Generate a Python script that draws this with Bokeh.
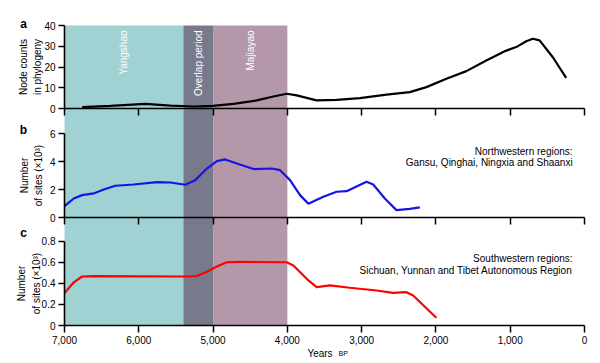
import math
from bokeh.plotting import figure
from bokeh.models import (Range1d, LinearAxis, FixedTicker, NumeralTickFormatter,
                          BoxAnnotation, Label)
from bokeh.embed import file_html
from bokeh.resources import INLINE

FONT = "Liberation Sans"

# ---- data ----
node_years = [6762, 6382, 5912, 5576, 5262, 5003, 4725, 4412, 4188, 4009, 3874, 3606, 3337,
              3023, 2665, 2352, 2128, 1859, 1590, 1322, 1053, 919, 784, 695, 605, 426, 247]
node_counts = [0.64, 1.3, 2.2, 1.4, 0.96, 1.3, 2.2, 3.9, 5.8, 7.1, 6.3, 3.9, 4.2,
               5.0, 6.7, 7.9, 10.3, 14.3, 18.0, 23.1, 27.9, 29.6, 32.4, 33.6, 32.8, 24.7, 14.8]

nw_years = [7000, 6875, 6763, 6606, 6472, 6315, 6069, 5755, 5576, 5374, 5240, 5083, 4949,
            4837, 4680, 4456, 4210, 4098, 3964, 3829, 3717, 3516, 3337, 3203, 2934, 2844,
            2688, 2531, 2352, 2217]
nw_sites = [0.83, 1.38, 1.62, 1.74, 2.02, 2.29, 2.38, 2.55, 2.52, 2.36, 2.69, 3.52, 4.05,
            4.17, 3.88, 3.48, 3.52, 3.40, 2.69, 1.62, 1.00, 1.5, 1.86, 1.9, 2.57, 2.38,
            1.38, 0.55, 0.64, 0.74]

sw_years = [7000, 6875, 6763, 6606, 5352, 5218, 5083, 4949, 4815, 4636, 4009, 3919, 3740,
            3606, 3427, 3158, 2800, 2576, 2397, 2307, 1994]
sw_sites = [0.307, 0.41, 0.465, 0.468, 0.465, 0.47, 0.51, 0.56, 0.60, 0.604, 0.60, 0.57,
            0.443, 0.364, 0.38, 0.358, 0.332, 0.31, 0.316, 0.285, 0.073]

period_names = ["Yangshao", "Overlap period", "Majiayao"]
period_start = [7000, 5400, 5000]
period_end = [5400, 5000, 4000]
period_colors = ["#a0d1d3", "#787a8c", "#b498aa"]

x_ticks = [7000, 6000, 5000, 4000, 3000, 2000, 1000, 0]
a_ticks = [0, 10, 20, 30, 40]
b_ticks = [0, 2, 4, 6]
c_ticks = [0, 0.2, 0.4, 0.6, 0.8]

# ---- layout (pixels) ----
W, H = 598, 360
LEFT_PX, RIGHT_PX = 64, 584          # where 7000 and 0 sit
X_PER_PX = (x_ticks[0] - x_ticks[-1]) / (RIGHT_PX - LEFT_PX)
A_ZERO, A_UNIT = 108.0, 83.0 / 40     # pixel row of 0, pixels per unit
B_ZERO, B_UNIT = 217.3, 84.0 / 6
C_ZERO, C_UNIT = 325.0, 84.3 / 0.8
SHADE_TOP, SHADE_BOTTOM = 25.0, 325.0


def prange(zero_px, unit_px):
    return Range1d(start=-(H - zero_px) / unit_px, end=zero_px / unit_px)


p = figure(width=W, height=H,
           x_range=Range1d(x_ticks[0] + LEFT_PX * X_PER_PX, x_ticks[-1] - (W - RIGHT_PX) * X_PER_PX),
           y_range=Range1d(H, 0),
           output_backend="svg", toolbar_location=None,
           x_axis_location=None, y_axis_location=None,
           min_border=0, min_border_left=0, min_border_right=0,
           min_border_top=0, min_border_bottom=0)
p.extra_y_ranges = {"a": prange(A_ZERO, A_UNIT), "b": prange(B_ZERO, B_UNIT),
                    "c": prange(C_ZERO, C_UNIT)}
p.outline_line_color = None
p.grid.visible = False
p.background_fill_color = "white"
p.border_fill_color = "white"

for s, e, c in zip(period_start, period_end, period_colors):
    p.add_layout(BoxAnnotation(left=s, right=e, top=SHADE_TOP, bottom=SHADE_BOTTOM,
                               fill_color=c, fill_alpha=1.0, line_color=None,
                               level="underlay"))


def style_axis(ax):
    ax.axis_line_width = 1.6
    ax.axis_line_color = "black"
    ax.major_tick_line_width = 1.5
    ax.major_tick_line_color = "black"
    ax.minor_tick_line_color = None
    ax.major_label_text_font = FONT
    ax.major_label_text_font_size = "10px"
    ax.major_label_text_color = "black"
    ax.axis_label_text_font = FONT
    ax.axis_label_text_font_size = "10px"
    ax.axis_label_text_font_style = "normal"
    ax.axis_label_text_color = "black"
    ax.axis_label_text_line_height = 1.3


def add_y_axis(name, ticks, label, standoff, overrides=None):
    ax = LinearAxis(y_range_name=name, ticker=FixedTicker(ticks=ticks),
                    bounds=(ticks[0], ticks[-1]), axis_label=label,
                    fixed_location=x_ticks[0])
    style_axis(ax)
    ax.major_tick_out = 6
    ax.major_tick_in = 0
    ax.major_label_standoff = 3
    ax.axis_label_standoff = standoff
    if overrides:
        ax.major_label_overrides = overrides
    p.add_layout(ax, "left")


def add_x_axis(zero_px, labels):
    ax = LinearAxis(ticker=FixedTicker(ticks=x_ticks), fixed_location=zero_px,
                    bounds=(x_ticks[-1], x_ticks[0]),
                    formatter=NumeralTickFormatter(format="0,0"))
    style_axis(ax)
    ax.major_tick_out = 7
    ax.major_tick_in = 0
    ax.major_label_standoff = 3
    if not labels:
        ax.major_label_text_font_size = "0px"
        ax.major_label_text_color = None
    p.add_layout(ax, "below")


add_y_axis("a", a_ticks, "Node counts\nin phylogeny", -2)
add_y_axis("b", b_ticks, "Number\nof sites (\u00d710\u00b3)", 3)
add_y_axis("c", c_ticks, "Number\nof sites (\u00d710\u00b3)", -3, overrides={0: "0"})
add_x_axis(A_ZERO, False)
add_x_axis(B_ZERO, False)
add_x_axis(C_ZERO, True)

p.line(node_years, node_counts, y_range_name="a", line_color="black", line_width=2.2)
p.line(nw_years, nw_sites, y_range_name="b", line_color="#1414e6", line_width=2.2)
p.line(sw_years, sw_sites, y_range_name="c", line_color="#ff0000", line_width=2.2)


def label(text, x, y, rng, size="10px", align="right", baseline="middle",
          color="black", style="normal", angle=0.0, x_offset=0):
    p.add_layout(Label(x=x, y=y, y_range_name=rng, text=text, text_font=FONT,
                       text_font_size=size, text_align=align, text_baseline=baseline,
                       text_color=color, text_font_style=style, angle=angle,
                       x_offset=x_offset))


for name, s, e in zip(period_names, period_start, period_end):
    label(name, (s + e) / 2, 37.6, "a", color="white", angle=math.pi / 2)

label("a", x_ticks[0], 40.5, "a", size="12px", align="center", style="bold", x_offset=-41)
label("b", x_ticks[0], 6.3, "b", size="12px", align="center", style="bold", x_offset=-41)
label("c", x_ticks[0], 0.874, "c", size="12px", align="center", style="bold", x_offset=-41)

label("Northwestern regions:", 160, 4.76, "b")
label("Gansu, Qinghai, Ningxia and Shaanxi", 160, 3.95, "b")
label("Southwestern regions:", 160, 0.633, "c")
label("Sichuan, Yunnan and Tibet Autonomous Region", 160, 0.522, "c")

label("Years", 3730, -0.266, "c", align="left", baseline="alphabetic")
label("BP", 3312, -0.266, "c", size="7px", align="left", baseline="alphabetic")

open("out.html", "w").write(file_html(p, INLINE))
